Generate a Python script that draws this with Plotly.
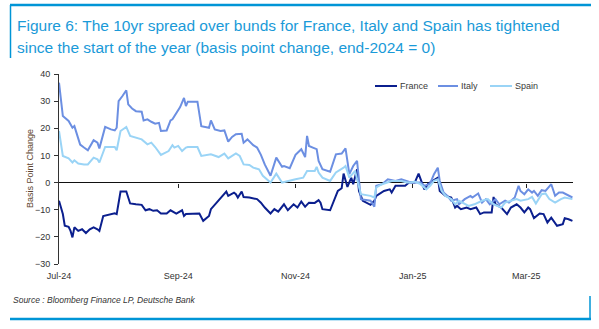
import pandas as pd
import plotly.graph_objects as go

# Change in 10yr spread over Bunds, basis points (end-2024 = 0)
# x values are calendar days since 1 Jul 2024
start = pd.Timestamp("2024-07-01")

france_days = [0, 2, 3, 5, 6, 7, 8, 10, 12, 14, 16, 18, 20, 21, 23, 27, 29, 30, 32, 35,
               37, 40, 43, 45, 47, 49, 51, 53, 56, 58, 59, 61, 64, 65, 66, 71, 73, 75, 78, 79,
               82, 84, 85, 87, 88, 91, 92, 93, 95, 96, 99, 103, 105, 107, 110, 112, 114, 117, 119, 122,
               124, 126, 128, 130, 133, 135, 136, 137, 141, 143, 145, 147, 148, 150, 152, 153, 155, 156, 158, 162,
               164, 165, 169, 172, 173, 175, 180, 182, 185, 187, 188, 190, 192, 194, 197, 198, 201, 204, 206, 207,
               209, 212, 214, 217, 219, 221, 225, 226, 227, 230, 233, 235, 238, 240, 242, 244, 245, 247, 250, 252,
               254, 256, 259, 262, 263, 265, 267]
france_bp = [-6.7, -11.6, -15.9, -16.3, -17.8, -20.2, -16.5, -17.8, -17.2, -18.6, -17.2, -16.5, -17.2, -17.8, -12.3, -11.6, -11.3, -11.6, -3.3, -3.3,
             -7.7, -8.0, -8.2, -10.2, -9.8, -10.4, -10.2, -11.4, -11.4, -10.2, -10.7, -11.4, -10.2, -12.3, -11.6, -11.3, -11.4, -14.1, -12.3, -9.8,
             -7.4, -6.1, -4.9, -3.3, -4.9, -3.7, -4.3, -5.5, -3.3, -5.3, -5.5, -6.1, -7.4, -9.2, -11.4, -9.8, -10.7, -8.0, -10.2, -8.0,
             -9.2, -7.0, -8.9, -7.4, -7.5, -6.5, -7.4, -9.8, -10.2, -6.7, -3.1, -2.1, 3.3, -1.6, 1.8, -0.6, 4.9, -3.1, -6.7, -8.2,
             -6.7, -4.9, -3.1, -2.5, -3.7, -1.2, -1.2, 0.0, 0.0, 3.3, 1.2, -2.5, -0.4, 0.6, 1.8, -3.1, -4.9, -5.5, -9.2, -8.6,
             -9.8, -9.2, -9.8, -9.2, -11.6, -11.0, -11.0, -5.3, -8.0, -9.2, -11.6, -9.2, -8.0, -9.2, -11.0, -9.2, -9.8, -13.1, -11.4, -11.6,
             -14.7, -12.9, -15.9, -15.3, -13.1, -13.5, -14.1]

italy_days = [0, 2, 5, 7, 8, 10, 11, 13, 15, 18, 20, 21, 24, 27, 29, 30, 31, 33, 35, 36,
              38, 40, 43, 44, 46, 48, 50, 52, 53, 56, 58, 59, 61, 63, 65, 66, 67, 72, 74, 78,
              79, 81, 84, 86, 88, 90, 92, 95, 96, 98, 101, 103, 105, 107, 110, 113, 116, 117, 120, 123,
              126, 128, 129, 130, 132, 134, 135, 137, 141, 144, 147, 149, 151, 153, 155, 156, 157, 162, 164, 165,
              168, 171, 175, 178, 183, 185, 188, 190, 193, 195, 197, 198, 200, 202, 204, 207, 208, 211, 214, 215,
              218, 220, 222, 224, 227, 229, 232, 234, 237, 239, 240, 242, 244, 246, 247, 249, 251, 253, 256, 258,
              260, 262, 264, 267]
italy_bp = [36.8, 24.5, 22.7, 20.2, 20.8, 16.5, 14.0, 12.9, 11.9, 15.6, 14.7, 12.6, 20.5, 19.6, 19.2, 20.2, 30.0, 31.9, 34.0, 28.8,
            27.3, 26.3, 26.1, 22.9, 23.3, 22.4, 21.7, 22.0, 19.0, 19.2, 22.9, 23.3, 25.7, 27.8, 31.2, 28.2, 29.8, 29.8, 20.8, 20.2,
            22.9, 19.6, 19.0, 19.2, 15.1, 16.8, 17.8, 18.0, 14.7, 15.9, 13.8, 12.9, 10.2, 6.7, 2.5, 9.2, 5.8, 6.1, 5.3, 10.2,
            12.3, 9.4, 17.2, 13.5, 12.9, 12.3, 8.0, 4.9, 4.0, 10.4, 10.7, 12.6, 3.1, 6.1, 8.0, 1.8, -6.1, -6.7, -8.9, -1.2,
            -0.6, 1.2, 0.6, 1.2, 0.0, 0.0, 0.0, -1.2, -0.4, 3.1, 5.5, 0.6, -3.7, -4.9, -6.7, -6.1, -8.0, -6.1, -4.9, -5.5,
            -4.0, -7.4, -6.1, -8.0, -6.1, -8.0, -6.7, -7.4, -5.5, -1.2, -3.1, -4.3, -2.5, -3.7, -3.1, -4.9, -2.8, -3.1, -0.6, -4.9,
            -3.7, -3.7, -4.3, -5.5]

spain_days = [0, 2, 5, 7, 8, 10, 13, 15, 18, 20, 21, 24, 29, 30, 32, 35, 37, 41, 43, 46,
              48, 50, 53, 57, 59, 60, 62, 64, 66, 67, 72, 74, 79, 83, 86, 88, 92, 94, 96, 99,
              101, 104, 106, 110, 113, 116, 119, 123, 127, 129, 133, 134, 135, 137, 141, 144, 148, 149, 151, 154,
              155, 157, 162, 164, 165, 168, 173, 178, 181, 183, 185, 188, 191, 193, 195, 197, 199, 201, 204, 206,
              208, 211, 213, 216, 220, 223, 226, 230, 232, 235, 238, 240, 244, 246, 248, 251, 253, 255, 258, 261,
              263, 267]
spain_bp = [19.0, 9.8, 8.9, 7.4, 8.2, 7.0, 6.7, 6.7, 9.2, 8.6, 7.4, 13.1, 13.1, 11.9, 19.0, 20.5, 17.2, 16.5, 15.9, 14.1,
            14.7, 13.1, 10.2, 11.6, 13.8, 12.9, 13.5, 11.6, 12.9, 13.1, 13.1, 9.8, 10.4, 9.4, 10.7, 8.9, 10.7, 9.8, 6.7, 6.5,
            5.5, 4.9, 2.5, 0.0, 3.3, 0.0, 0.6, 1.2, 1.8, 4.3, 4.3, 5.8, 3.7, 1.8, 0.6, 3.7, 5.5, 6.1, 1.8, 4.3,
            1.2, -4.3, -4.9, -5.5, -1.8, -0.6, 0.6, 0.6, 0.0, 0.0, 0.4, -0.6, -2.5, -1.2, 0.6, 1.2, -3.1, -4.9, -6.1, -8.0,
            -6.7, -8.0, -8.6, -8.0, -6.7, -6.1, -8.0, -9.2, -7.4, -6.7, -6.1, -6.7, -6.1, -5.3, -7.7, -4.3, -4.0, -6.1, -7.4, -6.1,
            -5.5, -6.1]

tick_dates = ["2024-07-01", "2024-09-01", "2024-11-01", "2025-01-01", "2025-03-01"]
tick_labels = ["Jul-24", "Sep-24", "Nov-24", "Jan-25", "Mar-25"]
y_ticks = [40, 30, 20, 10, 0, -10, -20, -30]

series = [
    ("France", france_days, france_bp, "#0b1f8e"),
    ("Italy", italy_days, italy_bp, "#6c8fe2"),
    ("Spain", spain_days, spain_bp, "#9ad4f6"),
]

W, H = 599, 329
L, R, T, B = 59, 573, 74, 264   # plot area in pixels


def px(x):
    return (x - L) / (R - L)


def py(y):
    return (B - y) / (B - T)


def to_dates(days):
    return start + pd.to_timedelta(days, unit="D")


fig = go.Figure()
for name, days, vals, colour in series:
    fig.add_trace(go.Scatter(x=to_dates(days), y=vals, mode="lines", name=name,
                             line=dict(color=colour, width=2), showlegend=False))

# empty trace so the tick-only axis along the zero line gets drawn
fig.add_trace(go.Scatter(x=[], y=[], xaxis="x2", yaxis="y", showlegend=False, hoverinfo="skip"))

axis_font = dict(family="Liberation Sans, Arial, sans-serif", size=9, color="#333333")
x_end = start + pd.Timedelta(days=267.3)

fig.update_layout(
    width=W, height=H,
    margin=dict(l=L, r=W - R, t=T, b=H - B, pad=0),
    paper_bgcolor="white", plot_bgcolor="white",
    xaxis=dict(type="date", range=[start, x_end], tickvals=tick_dates, ticktext=tick_labels,
               ticks="", showline=False, showgrid=False, zeroline=False,
               tickfont=axis_font, ticklabelstandoff=5),
    xaxis2=dict(type="date", matches="x", overlaying="x", anchor="free", position=30 / 70,
                tickvals=tick_dates[1:], ticks="outside", ticklen=4, tickcolor="#222222",
                showticklabels=False, showline=False, showgrid=False, zeroline=False),
    yaxis=dict(range=[-30, 40], tickvals=y_ticks, ticks="outside", ticklen=4, tickcolor="#333333",
               showline=True, linecolor="#333333", linewidth=1, showgrid=False,
               zeroline=True, zerolinecolor="#111111", zerolinewidth=1.3,
               tickfont=axis_font, ticklabelstandoff=2),
)

# axis title
annotations = [dict(xref="paper", yref="paper", x=px(30), y=py(169), text="Basis Point Change",
                    textangle=-90, showarrow=False, xanchor="center", yanchor="middle",
                    font=dict(family="Liberation Sans, Arial, sans-serif", size=9, color="#5e4630"))]

# legend
shapes = []
legend_pos = [(375, 397), (438, 458), (490, 512)]
for (name, _, _, colour), (x0, x1) in zip(series, legend_pos):
    shapes.append(dict(type="line", xref="paper", yref="paper", x0=px(x0), x1=px(x1),
                       y0=py(86), y1=py(86), line=dict(color=colour, width=2)))
    annotations.append(dict(xref="paper", yref="paper", x=px(x1 + 1), y=py(86), text=name,
                            showarrow=False, xanchor="left", yanchor="middle",
                            font=dict(family="Liberation Sans, Arial, sans-serif", size=9, color="#3a3a3a")))

# heading and source
frame_blue = "#0095d6"
heading_font = dict(family="Liberation Sans, Arial, sans-serif", size=15.5, color="#1a9ad8")
annotations.append(dict(xref="paper", yref="paper", x=px(15), y=py(25),
                        text="Figure 6: The 10yr spread over bunds for France, Italy and Spain has tightened",
                        showarrow=False, xanchor="left", yanchor="middle", font=heading_font))
annotations.append(dict(xref="paper", yref="paper", x=px(15), y=py(47),
                        text="since the start of the year (basis point change, end-2024 = 0)",
                        showarrow=False, xanchor="left", yanchor="middle", font=heading_font))
annotations.append(dict(xref="paper", yref="paper", x=px(11), y=py(300),
                        text="<i>Source : Bloomberg Finance LP, Deutsche Bank</i>",
                        showarrow=False, xanchor="left", yanchor="middle",
                        font=dict(family="Liberation Sans, Arial, sans-serif", size=8.5, color="#333333")))

# frame rules
shapes += [
    dict(type="line", xref="paper", yref="paper", x0=px(10), x1=px(591), y0=py(5), y1=py(5),
         line=dict(color=frame_blue, width=2.5)),
    dict(type="line", xref="paper", yref="paper", x0=px(10.5), x1=px(10.5), y0=py(5), y1=py(58),
         line=dict(color=frame_blue, width=1.5)),
    dict(type="line", xref="paper", yref="paper", x0=px(10), x1=px(591), y0=py(319), y1=py(319),
         line=dict(color=frame_blue, width=2.5)),
    dict(type="line", xref="paper", yref="paper", x0=px(590), x1=px(590), y0=py(296), y1=py(319),
         line=dict(color=frame_blue, width=1.5)),
]

fig.update_layout(annotations=annotations, shapes=shapes)
fig.write_html("out.html")
